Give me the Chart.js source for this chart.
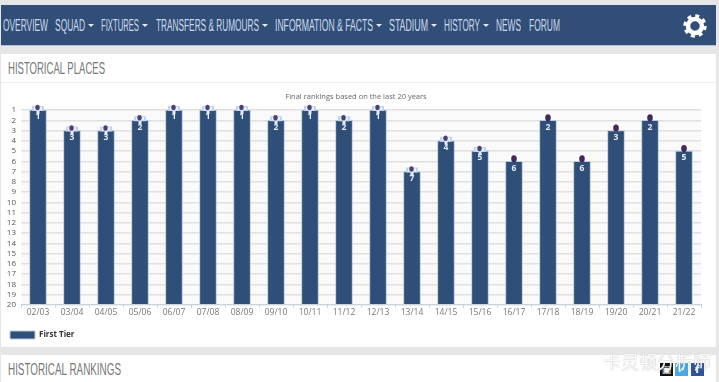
<!DOCTYPE html>
<html>
<head>
<meta charset="utf-8">
<script src="https://cdn.jsdelivr.net/npm/chart.js@4/dist/chart.umd.min.js"></script>
<style>
  html, body { margin: 0; padding: 0; }
  body { width: 719px; height: 382px; overflow: hidden; background: #e6e6e6; position: relative; font-family: "Open Sans", sans-serif; }
  .nav { position: absolute; left: 1px; top: 5px; width: 715px; height: 41px; background: #304e78; border-bottom: 1px solid #b8c2cf; box-sizing: border-box; }
  .nav span { position: absolute; top: 12px; font: 16px/18px "Liberation Sans Narrow", sans-serif; color: #cdd9ea; white-space: nowrap; }
  .nav i { position: absolute; top: 19px; width: 0; height: 0; border-left: 3px solid transparent; border-right: 3px solid transparent; border-top: 3px solid #e4ebf5; }
  .nav svg { position: absolute; left: 681px; top: 8px; }
  .card { position: absolute; left: 1px; width: 715px; background: #fff; }
  #c1 { top: 54px; height: 293px; }
  #c2 { top: 355px; height: 27px; }
  .card h2 { position: absolute; left: 7px; margin: 0; font: 400 17px/20px "Liberation Sans Narrow", sans-serif; color: #777; white-space: nowrap; transform-origin: 0 50%; }
  .rule { position: absolute; left: 0; right: 0; top: 28px; height: 1px; background: #eee; }
  .chart { position: absolute; left: 1px; top: 88px; width: 715px; height: 261px; }
  .mark { position: absolute; left: 603px; top: 350px; font: 18px/22px "Noto Sans CJK SC", sans-serif; color: rgba(255,255,255,0.95); text-shadow: 0 0 1px #999; white-space: nowrap; z-index: 2; }
  .soc { position: absolute; top: 363px; width: 13px; height: 13px; color: #fff; font: bold 10px/13px "DejaVu Sans", sans-serif; text-align: center; }
</style>
</head>
<body>
<div class="nav" id="nav">
  <svg width="26" height="26" viewBox="0 0 26 26">
    <circle cx="13" cy="13" r="9.5" fill="none" stroke="#fff" stroke-width="4.4" stroke-dasharray="3.7 3.76"/>
    <circle cx="13" cy="13" r="7" fill="none" stroke="#fff" stroke-width="4.5"/>
  </svg>
</div>
<div class="card" id="c1"><h2 id="t1" style="top:5px">HISTORICAL PLACES</h2><div class="rule"></div></div>
<div class="card" id="c2"><h2 id="t2" style="top:5px">HISTORICAL RANKINGS</h2></div>
<div class="chart"><canvas id="chart" width="715" height="261"></canvas></div>
<div class="soc" style="left:660px;background:#111">&#9635;</div>
<div class="soc" style="left:675px;background:#4aa8e0">&#10003;</div>
<div class="soc" style="left:691px;background:#2f5597">f</div>
<div class="mark">卡灵顿分析师</div>
<script>
const navLabels = ['OVERVIEW', 'SQUAD', 'FIXTURES', 'TRANSFERS & RUMOURS', 'INFORMATION & FACTS', 'STADIUM', 'HISTORY', 'NEWS', 'FORUM'];
const navLeft = [3, 55, 101, 156, 275, 389, 444, 496, 529];
const navWidth = [45, 30, 38, 103, 98, 39, 36, 25, 31];
const navArrow = [false, true, true, true, true, true, true, false, false];

const seasons = ['02/03', '03/04', '04/05', '05/06', '06/07', '07/08', '08/09', '09/10', '10/11', '11/12',
  '12/13', '13/14', '14/15', '15/16', '16/17', '17/18', '18/19', '19/20', '20/21', '21/22'];
const places = [1, 3, 3, 2, 1, 1, 1, 2, 1, 2, 1, 7, 4, 5, 6, 2, 6, 3, 2, 5];
const rankTicks = [1, 20];
const firstDarkBadge = '16/17'; // le logo change de couleur a partir de cette saison

// Nav : on cale chaque libelle sur sa largeur mesuree
const nav = document.getElementById('nav');
navLabels.forEach((t, i) => {
  const s = document.createElement('span');
  s.textContent = t;
  s.style.left = (navLeft[i] - 1) + 'px';
  nav.appendChild(s);
  const k = navWidth[i] / s.getBoundingClientRect().width;
  s.style.transformOrigin = '0 50%';
  s.style.transform = 'scaleX(' + k + ')';
  if (navArrow[i]) {
    const a = document.createElement('i');
    a.style.left = (navLeft[i] + navWidth[i] + 2) + 'px';
    nav.appendChild(a);
  }
});

// Titres de section, meme principe
[['t1', 97], ['t2', 113]].forEach(([id, w]) => {
  const h = document.getElementById(id);
  h.style.transform = 'scaleX(' + w / h.getBoundingClientRect().width + ')';
});

// Fond de la zone de trace + titre recentre
const plotBg = {
  id: 'plotBg',
  afterLayout(chart) {
    chart.titleBlock.left += 7;
  },
  beforeDraw(chart) {
    const { ctx, chartArea: a } = chart;
    ctx.save();
    ctx.fillStyle = '#fafafa';
    ctx.fillRect(a.left, a.top, a.right - a.left, a.bottom - a.top);
    ctx.restore();
  },
};

// Logo + rang en haut de chaque barre
const badges = {
  id: 'badges',
  afterDatasetsDraw(chart) {
    const { ctx } = chart;
    const darkFrom = seasons.indexOf(firstDarkBadge);
    chart.getDatasetMeta(0).data.forEach((bar, i) => {
      const x = bar.x, y = bar.y;
      ctx.save();
      if (i < darkFrom) {
        ctx.fillStyle = '#bcd6ea';
        ctx.fillRect(x - 6, y - 4, 12, 5);
        ctx.fillStyle = '#eef2f8';
        ctx.fillRect(x - 4, y - 3, 8, 3);
        ctx.fillStyle = '#e8eef6';
        ctx.fillRect(x - 1.5, y, 3, 4);
        ctx.fillStyle = '#4c3f78';
        ctx.beginPath();
        ctx.ellipse(x - 0.5, y - 2.5, 2.2, 2.8, 0, 0, 2 * Math.PI);
        ctx.fill();
      } else {
        ctx.fillStyle = '#43285f';
        ctx.beginPath();
        ctx.ellipse(x, y - 2.5, 2.8, 3.6, 0, 0, 2 * Math.PI);
        ctx.fill();
      }
      ctx.fillStyle = '#e9eef6';
      ctx.font = 'bold 8.5px "Open Sans"';
      ctx.textAlign = 'center';
      ctx.textBaseline = 'middle';
      ctx.fillText(places[i], x, y + 7);
      ctx.restore();
    });
  },
};

new Chart(document.getElementById('chart'), {
  type: 'bar',
  plugins: [plotBg, badges],
  data: {
    labels: seasons,
    datasets: [{
      label: 'First Tier',
      data: places,
      base: rankTicks[1],
      backgroundColor: '#2f4e78',
      borderColor: '#b9c8da',
      borderWidth: 1,
      barThickness: 17,
    }],
  },
  options: {
    responsive: false,
    animation: false,
    layout: { padding: { left: 3, right: 15, top: 0, bottom: 0 } },
    plugins: {
      tooltip: { enabled: false },
      title: {
        display: true,
        text: 'Final rankings based on the last 20 years',
        color: '#666',
        font: { family: 'Open Sans', size: 7.5, weight: 'normal' },
        padding: { top: 4, bottom: 9 },
      },
      legend: {
        display: true,
        position: 'bottom',
        align: 'start',
        labels: {
          boxWidth: 25,
          boxHeight: 8,
          padding: 6,
          color: '#333',
          font: { family: 'Open Sans', size: 8, weight: 'bold' },
        },
      },
    },
    scales: {
      x: {
        afterFit(scale) { scale.height += 7; },
        grid: { drawOnChartArea: false, drawTicks: true, tickLength: 3, color: '#c4d2e2' },
        border: { color: '#c4d2e2' },
        ticks: { color: '#777', font: { family: 'Open Sans', size: 8.5 }, maxRotation: 0, autoSkip: false, padding: 0 },
      },
      y: {
        reverse: true,
        min: rankTicks[0],
        max: rankTicks[1],
        afterFit(scale) { scale.width = 17; },
        grid: { color: '#e0e0e0', lineWidth: 1.4, drawTicks: false },
        border: { display: false },
        ticks: { stepSize: 1, color: '#555', font: { family: 'Open Sans', size: 8 }, padding: 5, autoSkip: false },
      },
    },
  },
});
</script>
</body>
</html>
